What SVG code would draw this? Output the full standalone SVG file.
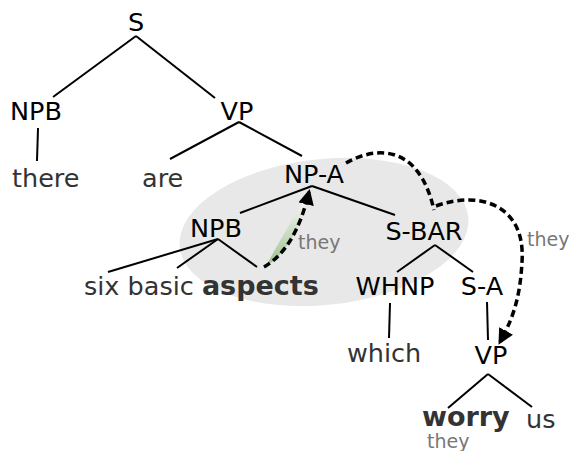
<svg xmlns="http://www.w3.org/2000/svg" width="571" height="451" viewBox="0 0 571 451">
<defs>
<style>
.lab{font-family:"DejaVu Sans",sans-serif;font-size:25.5px;fill:#000;text-anchor:middle}
.w{font-family:"DejaVu Sans",sans-serif;font-size:25.5px;fill:#333}
.b{font-weight:bold;font-size:27px}
.t{font-family:"DejaVu Sans",sans-serif;font-size:19px;fill:#777}
.e{stroke:#000;stroke-width:2;fill:none}
.d{stroke:#000;stroke-width:3.5;fill:none;stroke-dasharray:7,4}
</style>
<marker id="ah" viewBox="0 0 10 10" refX="8" refY="5" markerWidth="4.5" markerHeight="4.5" orient="auto" markerUnits="strokeWidth">
<path d="M0,0 L10,5 L0,10 z" fill="#000"/>
</marker>
<linearGradient id="g" x1="0" y1="0" x2="0" y2="1">
<stop offset="0" stop-color="#ffffff"/>
<stop offset="1" stop-color="#9fc090"/>
</linearGradient>
</defs>
<ellipse cx="324" cy="232" rx="145" ry="73" transform="rotate(-6 324 232)" fill="#e8e8e8"/>
<g id="edges">
<line class="e" x1="136" y1="36" x2="53" y2="97"/>
<line class="e" x1="136" y1="36" x2="215" y2="98"/>
<line class="e" x1="38" y1="128" x2="37" y2="161"/>
<line class="e" x1="239" y1="122" x2="170" y2="159"/>
<line class="e" x1="239" y1="122" x2="302" y2="156"/>
<line class="e" x1="312" y1="186" x2="240" y2="213"/>
<line class="e" x1="312" y1="186" x2="395" y2="215"/>
<line class="e" x1="218" y1="239" x2="108" y2="272"/>
<line class="e" x1="218" y1="239" x2="177" y2="268"/>
<line class="e" x1="218" y1="239" x2="257" y2="267"/>
<line class="e" x1="435" y1="245" x2="397" y2="272"/>
<line class="e" x1="435" y1="245" x2="473" y2="272"/>
<line class="e" x1="390" y1="303" x2="389" y2="338"/>
<line class="e" x1="487" y1="302" x2="488" y2="340"/>
<line class="e" x1="488" y1="374" x2="448" y2="408"/>
<line class="e" x1="488" y1="374" x2="532" y2="407"/>
<path d="M266 266 C 285 255, 300 230, 309 192 C 295 215, 280 240, 266 266 Z" fill="url(#g)"/>
<path class="d" d="M264 267 C 285 255, 300 230, 309 192" marker-end="url(#ah)"/>
<path class="d" d="M346 163 C 372 148, 418 140, 434 210"/>
<path class="d" d="M436 206 C 480 190, 526 205, 522 262 C 520 300, 512 320, 500 342" marker-end="url(#ah)"/>
</g>
<g id="n-S"><text class="lab" x="136" y="31">S</text></g>
<g id="n-NPB1"><text class="lab" x="36" y="120">NPB</text></g>
<g id="n-VP1"><text class="lab" x="237" y="120">VP</text></g>
<g id="n-there"><text class="w" x="12" y="187">there</text></g>
<g id="n-are"><text class="w" x="142" y="187">are</text></g>
<g id="n-NPA"><text class="lab" x="314" y="183">NP-A</text></g>
<g id="n-NPB2"><text class="lab" x="216" y="237">NPB</text></g>
<g id="n-SBAR"><text class="lab" x="424" y="240">S-BAR</text></g>
<g id="n-words"><text class="w" x="84" y="295">six basic <tspan class="b">aspects</tspan></text></g>
<g id="n-WHNP"><text class="lab" x="395" y="295">WHNP</text></g>
<g id="n-SA"><text class="lab" x="482" y="295">S-A</text></g>
<g id="n-which"><text class="w" x="347" y="362">which</text></g>
<g id="n-VP2"><text class="lab" x="491" y="364">VP</text></g>
<g id="n-worry"><text class="w b" x="422" y="426">worry</text></g>
<g id="n-us"><text class="w" x="526" y="428">us</text></g>
<g id="labels">
<text class="t" x="298" y="249">they</text>
<text class="t" x="527" y="246">they</text>
<text class="t" x="427" y="448">they</text>
</g>
</svg>
